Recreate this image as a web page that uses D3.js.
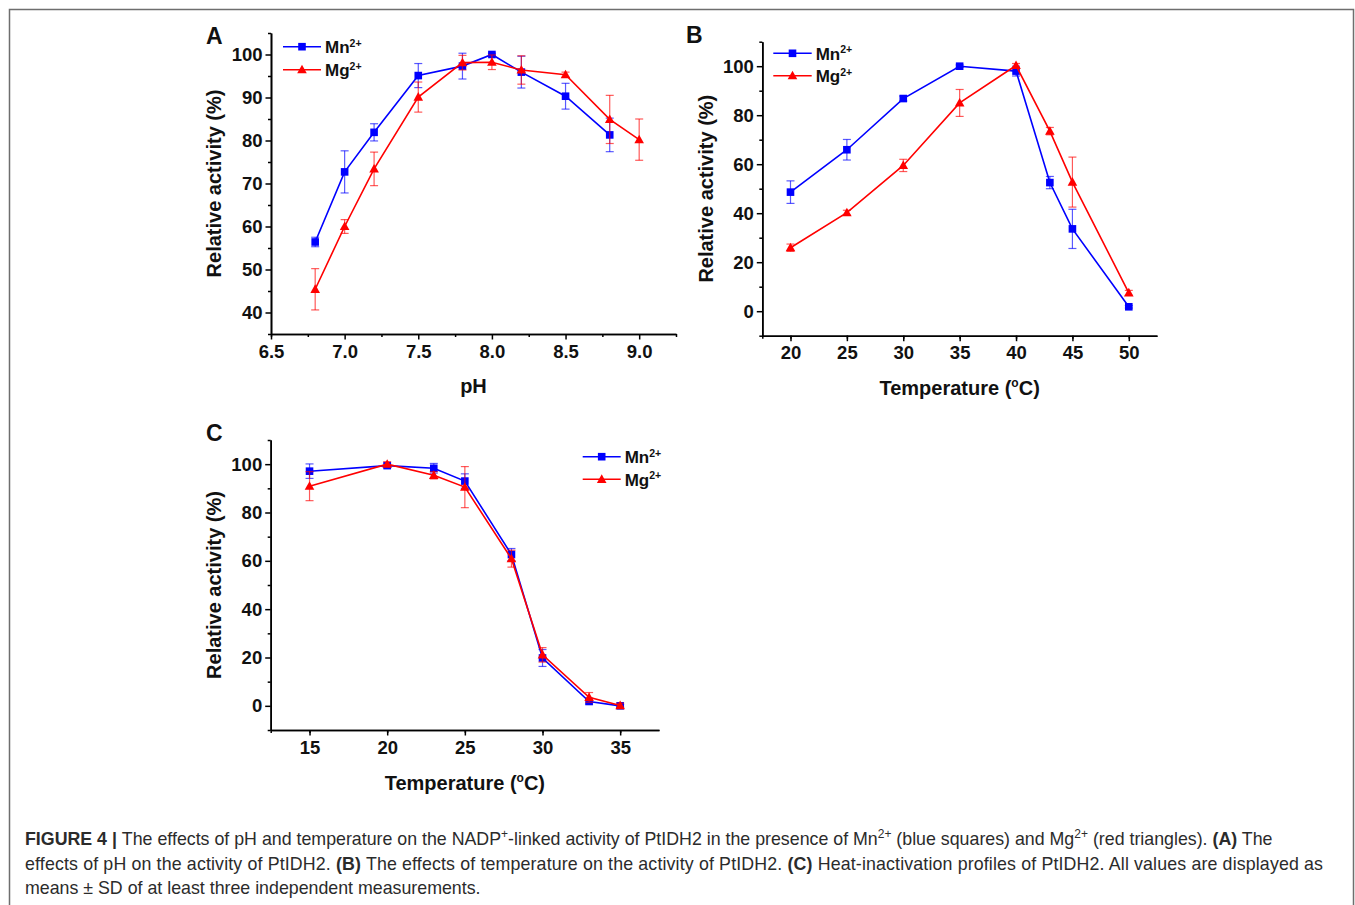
<!DOCTYPE html>
<html>
<head>
<meta charset="utf-8">
<script src="https://cdn.jsdelivr.net/npm/d3@7"></script>
<style>
  body { margin: 0; background: #fff; }
  svg { display: block; }
</style>
</head>
<body>
<svg></svg>
<script>
// panel A: pH
const phValues = [6.8, 7.0, 7.2, 7.5, 7.8, 8.0, 8.2, 8.5, 8.8, 9.0];
const phMn   = [56.4, 72.7, 81.9, 95.1, 97.3, 100, 95.9, 90.3, 81.3, null];
const phMnSd = [1.1, 4.9, 2.0, 2.8, 3.0, 0.3, 3.7, 3.0, 3.9, null];
const phMg   = [45.4, 60.0, 73.4, 90.1, 98.1, 98.2, 96.4, 95.3, 84.9, 80.2];
const phMgSd = [4.8, 1.6, 3.9, 3.5, 1.7, 1.7, 3.3, 0.6, 5.6, 4.8];
const phTicks = [6.5, 7.0, 7.5, 8.0, 8.5, 9.0];

// panel B: temperature
const tempValues = [20, 25, 30, 35, 40, 43, 45, 50];
const tempMn   = [48.6, 65.9, 86.8, 100, 98.0, 52.5, 33.6, 1.8];
const tempMnSd = [4.6, 4.2, 1.0, 0.5, 2.0, 2.5, 8.0, 0.5];
const tempMg   = [25.9, 40.2, 59.5, 85.0, 100.3, 73.5, 52.7, 7.5];
const tempMgSd = [1.5, 1.0, 2.5, 5.5, 0.8, 1.5, 10.2, 1.0];
const tempTicks = [20, 25, 30, 35, 40, 45, 50];

// panel C: heat inactivation
const heatValues = [15, 20, 23, 25, 28, 30, 33, 35];
const heatMn   = [97.1, 99.4, 98.3, 93.0, 62.6, 19.8, 1.8, 0];
const heatMnSd = [3.0, 1.0, 2.0, 3.0, 2.5, 3.5, 1.0, 0.5];
const heatMg   = [90.9, 100, 95.4, 90.5, 60.9, 21.1, 3.5, 0.1];
const heatMgSd = [6.0, 1.0, 1.5, 8.5, 3.5, 3.0, 2.0, 1.0];
const heatTicks = [15, 20, 25, 30, 35];

const activityTicks = [0, 20, 40, 60, 80, 100];
const phActivityTicks = [40, 50, 60, 70, 80, 90, 100];

const blue = '#0000ff';
const red = '#ff0000';
const font = 'Liberation Sans, Arial, Helvetica, sans-serif';

const svg = d3.select('svg')
    .attr('width', 1355)
    .attr('height', 905);

svg.append('rect')
    .attr('x', 9.5).attr('y', 9.5)
    .attr('width', 1344).attr('height', 920)
    .attr('fill', '#fff')
    .attr('stroke', '#6e6e6e')
    .attr('stroke-width', 1.5);

// writes parts into a text element; {sup} raised, {b} bold, {t} plain
function richText(sel, parts, size, supSize) {
    let lift = 0;
    parts.forEach(p => {
        const ts = sel.append('tspan');
        if (p.sup) {
            ts.attr('dy', -size * 0.38 - lift).attr('font-size', supSize).text(p.sup);
            lift = -size * 0.38;
        } else {
            if (lift) ts.attr('dy', -lift);
            lift = 0;
            if (p.b) ts.attr('font-weight', 'bold').text(p.b);
            else ts.text(p.t);
        }
    });
}

function marker(g, shape, color, cx, cy) {
    if (shape === 'square') {
        g.append('rect')
            .attr('x', cx - 3.8).attr('y', cy - 3.8)
            .attr('width', 7.6).attr('height', 7.6)
            .attr('fill', color);
    } else {
        g.append('path')
            .attr('d', `M${cx},${cy - 5}L${cx + 4.8},${cy + 3.6}L${cx - 4.8},${cy + 3.6}Z`)
            .attr('fill', color);
    }
}

function drawPanel(o) {
    const x = d3.scaleLinear().domain(o.xDomain).range(o.xRange);
    const y = d3.scaleLinear().domain(o.yDomain).range(o.yRange);
    const g = svg.append('g');

    const styleAxis = a => {
        a.selectAll('.domain').attr('stroke', '#000').attr('stroke-width', 1.6);
        a.selectAll('.tick line').attr('stroke', '#000').attr('stroke-width', 1.5);
        a.selectAll('.tick text')
            .attr('fill', '#111')
            .style('font', `bold 18.5px ${font}`);
    };

    const xStep = o.xTicks[1] - o.xTicks[0];
    const xMinor = d3.range(o.xDomain[0] + xStep / 2, o.xDomain[1] + 1e-6, xStep)
        .concat([o.xDomain[0]]);
    const yStep = o.yTicks[1] - o.yTicks[0];
    const yMinor = d3.range(o.yDomain[0], o.yDomain[1] + 1e-6, yStep).filter(v => !o.yTicks.includes(v));

    g.append('g')
        .attr('transform', `translate(0,${o.yRange[0]})`)
        .call(d3.axisBottom(x).tickValues(xMinor).tickSize(3).tickSizeOuter(0).tickFormat(() => null))
        .call(styleAxis);
    g.append('g')
        .attr('transform', `translate(0,${o.yRange[0]})`)
        .call(d3.axisBottom(x).tickValues(o.xTicks).tickSize(5.5).tickSizeOuter(0)
            .tickPadding(5).tickFormat(o.xFormat))
        .call(styleAxis);
    g.append('g')
        .attr('transform', `translate(${o.xRange[0]},0)`)
        .call(d3.axisLeft(y).tickValues(yMinor).tickSize(3).tickSizeOuter(0).tickFormat(() => null))
        .call(styleAxis);
    g.append('g')
        .attr('transform', `translate(${o.xRange[0]},0)`)
        .call(d3.axisLeft(y).tickValues(o.yTicks).tickSize(5.5).tickSizeOuter(0).tickPadding(3))
        .call(styleAxis);
    g.selectAll('.tick text').filter(function () { return !this.textContent; }).remove();

    // titles
    const xt = g.append('text')
        .attr('x', (o.xRange[0] + o.xRange[1]) / 2)
        .attr('y', o.xTitleY)
        .attr('text-anchor', 'middle')
        .style('font', `bold 20px ${font}`)
        .attr('fill', '#111');
    richText(xt, o.xTitle, 20, 12);

    g.append('text')
        .attr('transform', `translate(${o.yTitleX},${(o.yRange[0] + o.yRange[1]) / 2}) rotate(-90)`)
        .attr('text-anchor', 'middle')
        .style('font', `bold 20px ${font}`)
        .attr('fill', '#111')
        .text('Relative activity (%)');

    g.append('text')
        .attr('x', o.letter[1]).attr('y', o.letter[2])
        .style('font', `bold 23px ${font}`)
        .attr('fill', '#111')
        .text(o.letter[0]);

    // data
    o.series.forEach(s => {
        const pts = o.xs.map((v, i) => ({x: v, y: s.values[i], sd: s.sd[i]}))
            .filter(d => d.y !== null);
        const eb = g.append('g')
            .attr('stroke', s.color)
            .attr('stroke-opacity', 0.65)
            .attr('stroke-width', 1.2);
        pts.forEach(d => {
            const px = x(d.x), top = y(d.y + d.sd), bot = y(d.y - d.sd);
            eb.append('line').attr('x1', px).attr('x2', px).attr('y1', top).attr('y2', bot);
            eb.append('line').attr('x1', px - 4).attr('x2', px + 4).attr('y1', top).attr('y2', top);
            eb.append('line').attr('x1', px - 4).attr('x2', px + 4).attr('y1', bot).attr('y2', bot);
        });
        g.append('path')
            .datum(pts)
            .attr('fill', 'none')
            .attr('stroke', s.color)
            .attr('stroke-width', 1.6)
            .attr('d', d3.line().x(d => x(d.x)).y(d => y(d.y)));
        pts.forEach(d => marker(g, s.shape, s.color, x(d.x), y(d.y)));
    });

    // legend
    const lg = [['Mn', blue, 'square'], ['Mg', red, 'triangle']];
    lg.forEach((l, i) => {
        const ly = o.legend[2] + i * o.legend[3];
        g.append('line')
            .attr('x1', o.legend[0]).attr('x2', o.legend[1])
            .attr('y1', ly).attr('y2', ly)
            .attr('stroke', l[1]).attr('stroke-width', 1.6);
        marker(g, l[2], l[1], (o.legend[0] + o.legend[1]) / 2, ly);
        const t = g.append('text')
            .attr('x', o.legend[1] + 4).attr('y', ly + 6.5)
            .style('font', `bold 17px ${font}`)
            .attr('fill', '#111');
        richText(t, [{t: l[0]}, {sup: '2+'}], 17, 10.5);
    });
}

const seriesFor = (mn, mnSd, mg, mgSd) => [
    {values: mn, sd: mnSd, color: blue, shape: 'square'},
    {values: mg, sd: mgSd, color: red, shape: 'triangle'}
];

drawPanel({
    xDomain: [6.5, 9.25], xRange: [271, 676],
    yDomain: [35, 105], yRange: [334, 33],
    xTicks: phTicks, yTicks: phActivityTicks,
    xFormat: d3.format('.1f'),
    xs: phValues,
    series: seriesFor(phMn, phMnSd, phMg, phMgSd),
    xTitle: [{t: 'pH'}], xTitleY: 393,
    yTitleX: 221,
    letter: ['A', 206, 44],
    legend: [283, 321, 46.7, 23]
});

drawPanel({
    xDomain: [17.5, 52.5], xRange: [762.3, 1157],
    yDomain: [-10, 110], yRange: [335.7, 41.7],
    xTicks: tempTicks, yTicks: activityTicks,
    xFormat: d3.format('d'),
    xs: tempValues,
    series: seriesFor(tempMn, tempMnSd, tempMg, tempMgSd),
    xTitle: [{t: 'Temperature ('}, {sup: 'o'}, {t: 'C)'}], xTitleY: 395,
    yTitleX: 713,
    letter: ['B', 686, 43],
    legend: [773.3, 811.7, 53.3, 22.4]
});

drawPanel({
    xDomain: [12.5, 37.5], xRange: [270.7, 659],
    yDomain: [-10, 110], yRange: [730, 440],
    xTicks: heatTicks, yTicks: activityTicks,
    xFormat: d3.format('d'),
    xs: heatValues,
    series: seriesFor(heatMn, heatMnSd, heatMg, heatMgSd),
    xTitle: [{t: 'Temperature ('}, {sup: 'o'}, {t: 'C)'}], xTitleY: 790,
    yTitleX: 221,
    letter: ['C', 206, 441],
    legend: [582.7, 620.7, 456.7, 22.6]
});

// caption
const captionLines = [
    [{b: 'FIGURE 4 | '}, {t: 'The effects of pH and temperature on the NADP'}, {sup: '+'},
     {t: '-linked activity of PtIDH2 in the presence of Mn'}, {sup: '2+'},
     {t: ' (blue squares) and Mg'}, {sup: '2+'}, {t: ' (red triangles). '}, {b: '(A)'}, {t: ' The'}],
    [{t: 'effects of pH on the activity of PtIDH2. '}, {b: '(B)'},
     {t: ' The effects of temperature on the activity of PtIDH2. '}, {b: '(C)'},
     {t: ' Heat-inactivation profiles of PtIDH2. All values are displayed as'}],
    [{t: 'means \u00b1 SD of at least three independent measurements.'}]
];
const captionY = [845, 869.5, 894];
const captionWidth = [null, 1298, null];

captionLines.forEach((line, i) => {
    const t = svg.append('text')
        .attr('x', 25).attr('y', captionY[i])
        .style('font', `17.8px ${font}`)
        .attr('fill', '#2b2b2b')
        .attr('xml:space', 'preserve');
    if (captionWidth[i]) t.attr('textLength', captionWidth[i]).attr('lengthAdjust', 'spacing');
    richText(t, line, 17.8, 12);
});
</script>
</body>
</html>
